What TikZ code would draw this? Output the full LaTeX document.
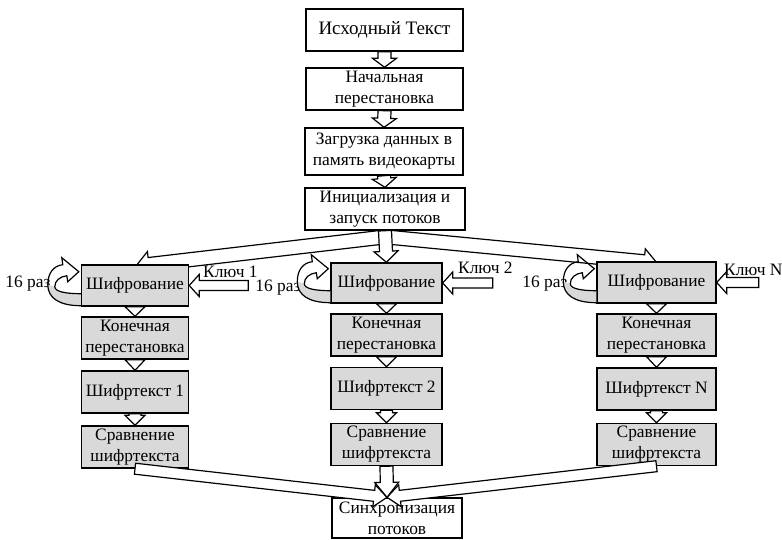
\documentclass[tikz,border=0pt]{standalone}
\usepackage{fontspec}
\setmainfont{Liberation Serif}
\usetikzlibrary{calc}
\pgfdeclarelayer{bg}
\pgfsetlayers{bg,main}

\tikzset{
  every node/.style={font=\fontsize{17.4}{21}\selectfont},
  box/.style={draw, line width=1.4pt, fill=white, align=center, inner sep=0pt, minimum height=42pt},
  gbox/.style={box, fill=black!15},
  barrow/.style={draw, fill=white, line width=1.2pt, line join=miter},
  lbl/.style={inner sep=0pt},
  loopband/.style={fill=black!15},
}

% hollow block arrow: [style]{from}{to}{half shaft}{half head}{head length}
\newcommand{\blockarrow}[6][barrow]{%
  \path ($(#3)!#6!(#2)$) coordinate (bahd);
  \draw[#1] ($(#2)!#4!90:(#3)$) -- ($(bahd)!#4!90:(#3)$) -- ($(bahd)!#5!90:(#3)$) -- (#3)
    -- ($(bahd)!#5!-90:(#3)$) -- ($(bahd)!#4!-90:(#3)$) -- ($(#2)!#4!-90:(#3)$) -- cycle;
}
% open triangle head between two stacked boxes
\newcommand{\trihead}[2]{%
  \draw[barrow] ($(#1)+(-10,0)$) -- (#2) -- ($(#1)+(10,0)$) -- cycle;
}
% curved "16 times" loop arrow on the left side of a box
\newcommand{\looparrow}[1]{%
  \begin{scope}[shift={(#1)}]
    \fill[loopband] (0,-1) .. controls (-22,-1) and (-33,-9) .. (-33,-22)
      -- (-26,-20) .. controls (-26,-15) and (-15,-13) .. (0,-13) -- cycle;
    \draw[line width=1.2pt, line join=miter] (0,-1) .. controls (-22,-1) and (-33,-9) .. (-33,-22)
      .. controls (-33,-34) and (-27,-41) .. (-18,-42)
      -- (-19,-49) -- (-2,-35) -- (-13,-25) -- (-14,-31)
      .. controls (-21,-30) and (-26,-26) .. (-26,-20)
      .. controls (-26,-15) and (-15,-13) .. (0,-13);
  \end{scope}
}

\begin{document}
\begin{tikzpicture}[x=1pt, y=-1pt]
\useasboundingbox (0,0) rectangle (782,539);

% main column
\node[box, minimum width=157pt, font=\fontsize{19}{21}\selectfont] (src) at (384.5,30) {Исходный Текст};
\node[box, minimum width=157pt] (perm0) at (384.5,89) {Начальная\\перестановка};
\node[box, minimum width=158pt, minimum height=47pt] (load) at (384,151.5) {Загрузка данных в\\память видеокарты};
\node[box, minimum width=160pt] (init) at (385,209) {Инициализация и\\запуск потоков};

% thread 1
\node[gbox, minimum width=107pt, minimum height=41pt] (enc1) at (135,285.5) {Шифрование};
\node[gbox, minimum width=107pt] (fin1) at (135,338) {Конечная\\перестановка};
\node[gbox, minimum width=107pt] (ct1) at (135,392) {Шифртекст 1};
\node[gbox, minimum width=107pt] (cmp1) at (135,447) {Сравнение\\шифртекста};

% thread 2
\node[gbox, minimum width=111pt, minimum height=40pt] (enc2) at (386.5,283) {Шифрование};
\node[gbox, minimum width=111pt] (fin2) at (386.5,335) {Конечная\\перестановка};
\node[gbox, minimum width=111pt] (ct2) at (386.5,388.5) {Шифртекст 2};
\node[gbox, minimum width=111pt] (cmp2) at (386.5,444.5) {Сравнение\\шифртекста};

% thread N
\node[gbox, minimum width=119pt, minimum height=41pt] (enc3) at (656.5,282.5) {Шифрование};
\node[gbox, minimum width=119pt] (fin3) at (656.5,335) {Конечная\\перестановка};
\node[gbox, minimum width=119pt] (ct3) at (656.5,389) {Шифртекст N};
\node[gbox, minimum width=119pt] (cmp3) at (656.5,444.5) {Сравнение\\шифртекста};

% synchronisation
\node[box, minimum width=130pt, minimum height=40pt] (sync) at (397,518) {Синхронизация\\потоков};

% key inputs and loop labels
\node[lbl, anchor=west] (key1) at (203,272) {Ключ 1};
\node[lbl, anchor=west] (key2) at (458,268) {Ключ 2};
\node[lbl, anchor=west] (key3) at (724,270) {Ключ N};
\node[lbl] (rep1) at (28,284) {16 раз};
\node[lbl] (rep2) at (278,288) {16 раз};
\node[lbl] (rep3) at (545,284) {16 раз};

\coordinate (iL) at (384,237);
\coordinate (iR) at (387,237);
\coordinate (dL) at (136,266);
\coordinate (dR) at (657,263);
\coordinate (k1) at ($(enc1.east)+(59,0)$);
\coordinate (k2) at ($(enc2.east)+(50,0)$);
\coordinate (k3) at ($(enc3.east)+(42,0)$);
\coordinate (syt) at ($(sync.north)+(-10,0)$);

\begin{pgfonlayer}{bg}
  \blockarrow{src.south}{perm0.north}{6.5pt}{12pt}{9pt}
  \blockarrow{perm0.south}{load.north}{6.5pt}{12pt}{9pt}
  \blockarrow{load.south}{init.north}{6.5pt}{12pt}{9pt}
  \blockarrow{iL}{dL}{7pt}{13pt}{13pt}
  \blockarrow{iR}{dR}{7pt}{13pt}{13pt}
  \blockarrow{init.south}{enc2.north}{6.5pt}{12pt}{11pt}
  \blockarrow{k1}{enc1.east}{5pt}{11pt}{10pt}
  \blockarrow{k2}{enc2.east}{5pt}{11pt}{10pt}
  \blockarrow{k3}{enc3.east}{5pt}{11pt}{10pt}
  \trihead{enc1.south}{fin1.north}
  \trihead{fin1.south}{ct1.north}
  \blockarrow{ct1.south}{cmp1.north}{6pt}{10pt}{10pt}
  \trihead{enc2.south}{fin2.north}
  \trihead{fin2.south}{ct2.north}
  \blockarrow{ct2.south}{cmp2.north}{6pt}{10pt}{10pt}
  \trihead{enc3.south}{fin3.north}
  \trihead{fin3.south}{ct3.north}
  \blockarrow{ct3.south}{cmp3.north}{6pt}{10pt}{10pt}
\end{pgfonlayer}

% loops
\looparrow{enc1.south west}
\looparrow{enc2.south west}
\looparrow{enc3.south west}

% merging into synchronisation
\blockarrow{cmp1.south}{syt}{5.5pt}{11pt}{13pt}
\blockarrow{cmp3.south}{syt}{5.5pt}{11pt}{13pt}
\blockarrow{cmp2.south}{syt}{6.5pt}{12pt}{15pt}
\end{tikzpicture}
\end{document}
